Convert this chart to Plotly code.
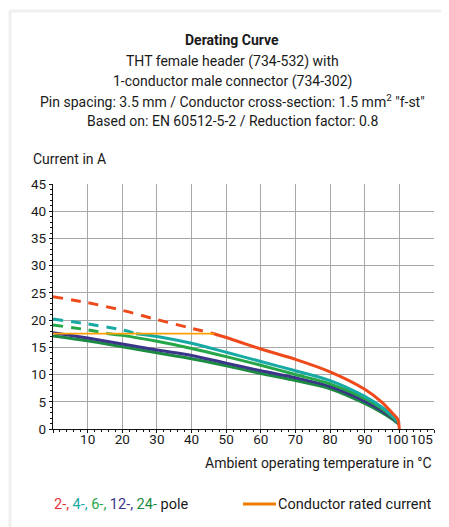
import plotly.graph_objects as go

# ---------------- data ----------------
TEMP_SOLID_FULL = [0, 10, 20, 30, 40, 50, 60, 70, 80, 90, 95, 98, 100]

# 2-pole (red)
RED_DASH_X = [0, 10, 20, 30, 40, 46.5]
RED_DASH_Y = [24.3, 23.2, 21.8, 20.1, 18.5, 17.5]
RED_X = [46.5, 50, 60, 70, 80, 90, 95, 98, 99.5, 100]
RED_Y = [17.5, 16.8, 14.7, 12.8, 10.5, 7.3, 4.9, 2.9, 1.8, 0]

# 4-pole (teal)
TEAL_DASH_X = [0, 10, 20, 24]
TEAL_DASH_Y = [20.2, 19.3, 18.2, 17.5]
TEAL_X = [24, 30, 40, 50, 60, 70, 80, 90, 95, 98, 100]
TEAL_Y = [17.5, 17.0, 15.75, 14.1, 12.4, 10.7, 8.9, 6.0, 4.0, 2.4, 1.1]

# 6-pole (green)
GREEN_DASH_X = [0, 10, 16]
GREEN_DASH_Y = [19.1, 18.2, 17.5]
GREEN_X = [16, 20, 30, 40, 50, 60, 70, 80, 90, 95, 98, 100]
GREEN_Y = [17.5, 17.2, 16.1, 14.8, 13.3, 11.7, 10.0, 8.3, 5.6, 3.7, 2.2, 1.0]

# 12-pole (purple)
PURPLE_X = TEMP_SOLID_FULL
PURPLE_Y = [17.7, 16.7, 15.6, 14.5, 13.5, 12.1, 10.7, 9.4, 7.8, 5.1, 3.3, 2.0, 0.9]

# 24-pole (dark green)
DKGREEN_X = TEMP_SOLID_FULL
DKGREEN_Y = [17.1, 16.2, 15.1, 14.0, 12.9, 11.6, 10.2, 8.9, 7.4, 4.7, 3.0, 1.8, 0.8]

# conductor rated current
RATED_X = [0, 46.5]
RATED_Y = [17.5, 17.5]

X_TICK_VALS = [10, 20, 30, 40, 50, 60, 70, 80, 90, 100, 105]
X_TICK_TEXT = ["10", "20", "30", "40", "50", "60", "70", "80", "90", "100", "105"]
Y_TICK_VALS = [0, 5, 10, 15, 20, 25, 30, 35, 40, 45]

TITLE_LINES = [
    "<b>Derating Curve</b>",
    "THT female header (734-532) with",
    "1-conductor male connector (734-302)",
    "Pin spacing: 3.5 mm / Conductor cross-section: 1.5 mm<sup>2</sup> \"f-st\"",
    "Based on: EN 60512-5-2 / Reduction factor: 0.8",
]

# ---------------- style ----------------
FONT = "Roboto, Liberation Sans, sans-serif"
FS = 14
FS_TICK = 13.5
TXT = "#1a1a1a"
C_RED = "#ee4a1c"
C_TEAL = "#17aaa5"
C_GREEN = "#25a647"
C_PURPLE = "#3b3589"
C_DKGREEN = "#1b8b42"
C_RATED = "#ffa000"
LW = 3
DASH = "10px,8px"
# the crowded last two x labels are nudged apart (visual offset only)
LABEL_NUDGE = {100: -0.6, 105: 1.4}

fig = go.Figure()

def add(x, y, color, dash=None, width=LW, xaxis="x"):
    fig.add_trace(go.Scatter(
        x=x, y=y, mode="lines", xaxis=xaxis,
        line=dict(color=color, width=width, dash=dash, shape="spline", smoothing=0.8),
        showlegend=False, hoverinfo="skip"))

add(DKGREEN_X, DKGREEN_Y, C_DKGREEN)
add(PURPLE_X, PURPLE_Y, C_PURPLE)
add(GREEN_X, GREEN_Y, C_GREEN)
add(GREEN_DASH_X, GREEN_DASH_Y, C_GREEN, DASH)
add(TEAL_X, TEAL_Y, C_TEAL)
add(TEAL_DASH_X, TEAL_DASH_Y, C_TEAL, DASH)
add(RED_X, RED_Y, C_RED)
add(RED_DASH_X, RED_DASH_Y, C_RED, DASH)
fig.add_trace(go.Scatter(x=RATED_X, y=RATED_Y, mode="lines", xaxis="x2",
                         line=dict(color=C_RATED, width=1.8),
                         showlegend=False, hoverinfo="skip"))

# page has an 8px body margin; figure is sized to fit the window
OFF = 8
W, H = 449 - OFF, 527 - OFF
ML, MR, MT, MB = 45, 15, 176, 98
PW = W - ML - MR
PH = H - MT - MB

def fx(p):  # page pixel x -> paper x
    return (p - OFF - ML) / PW

def fy(p):  # page pixel y -> paper y
    return (H - MB - (p - OFF)) / PH

def ann(text, x, y, xanchor, size=FS):
    return dict(text=text, x=x, y=y, xref="paper", yref="paper",
                xanchor=xanchor, yanchor="middle", showarrow=False,
                font=dict(family=FONT, size=size, color=TXT))

annotations = []
for txt, yy in zip(TITLE_LINES, [40, 61, 81, 101, 121]):
    annotations.append(ann(txt, fx(232), fy(yy), "center"))
annotations.append(ann("Current in A", fx(31), fy(159), "left"))
annotations.append(ann("Ambient operating temperature in °C", 1, fy(463), "right"))
legend_txt = (f"<span style='color:#e8333a'>2-, </span>"
              f"<span style='color:{C_TEAL}'>4-, </span>"
              f"<span style='color:{C_GREEN}'>6-, </span>"
              f"<span style='color:{C_PURPLE}'>12-, </span>"
              f"<span style='color:{C_DKGREEN}'>24- </span>pole")
annotations.append(ann(legend_txt, fx(52), fy(504), "left", 14.5))
annotations.append(ann("Conductor rated current", 1, fy(504), "right", 14.5))

shapes = [
    dict(type="line", xref="paper", yref="paper", x0=fx(243), x1=fx(276),
         y0=fy(504), y1=fy(504), line=dict(color="#f07d00", width=3)),
    # faint frame
    dict(type="line", xref="paper", yref="paper", x0=fx(10), x1=fx(449),
         y0=fy(11), y1=fy(11), line=dict(color="#efefef", width=3)),
    dict(type="line", xref="paper", yref="paper", x0=fx(10), x1=fx(10),
         y0=fy(11), y1=fy(527), line=dict(color="#efefef", width=3)),
]

x_label_pos = [v + LABEL_NUDGE.get(v, 0) for v in X_TICK_VALS]

fig.update_layout(
    width=W, height=H,
    margin=dict(l=ML, r=MR, t=MT, b=MB, pad=0),
    paper_bgcolor="white", plot_bgcolor="white",
    font=dict(family=FONT, size=FS, color=TXT),
    showlegend=False,
    xaxis=dict(range=[0, 110], tick0=0, dtick=10, showgrid=True, gridcolor="#a8a8a8", gridwidth=1,
               zeroline=False, showline=True, linecolor="#111111", linewidth=1.2,
               ticks="outside", ticklen=3, tickcolor="#111111", showticklabels=False,
               minor=dict(dtick=2, ticks="outside", ticklen=2, tickcolor="#111111", showgrid=False),
               fixedrange=True),
    xaxis2=dict(range=[0, 110], overlaying="x", anchor="y", side="bottom",
                tickvals=x_label_pos, ticktext=X_TICK_TEXT, ticks="", tickangle=0,
                showgrid=False, showline=False, zeroline=False,
                tickfont=dict(family=FONT, size=FS_TICK, color=TXT), fixedrange=True),
    yaxis=dict(range=[0, 45], tickvals=Y_TICK_VALS, showgrid=True, gridcolor="#a8a8a8", gridwidth=1,
               zeroline=False, showline=True, linecolor="#111111", linewidth=1.2,
               ticks="outside", ticklen=3, tickcolor="#111111",
               tickfont=dict(family=FONT, size=FS_TICK, color=TXT),
               minor=dict(dtick=1, ticks="outside", ticklen=2, tickcolor="#111111", showgrid=False),
               fixedrange=True),
    annotations=annotations,
    shapes=shapes,
)

fig.write_html("out.html")
